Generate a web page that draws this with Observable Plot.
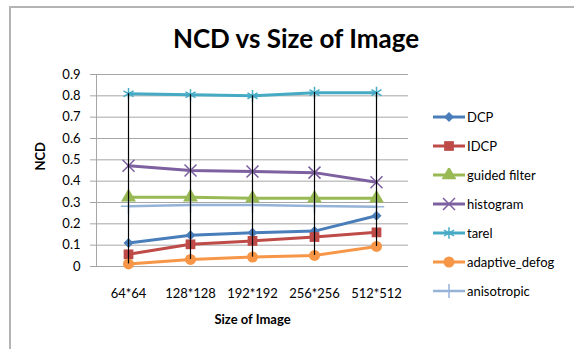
<!DOCTYPE html>
<html>
<head>
<meta charset="utf-8">
<script src="https://cdn.jsdelivr.net/npm/d3@7"></script>
<script src="https://cdn.jsdelivr.net/npm/@observablehq/plot@0.6"></script>
<style>
  html, body { margin: 0; padding: 0; background: #fff; }
  body { width: 574px; height: 349px; position: relative; overflow: hidden; font-family: Lato, "Open Sans", sans-serif; }
  #frame { position: absolute; left: 9px; top: 6px; width: 600px; height: 400px; border-left: 2px solid #b4b4b4; border-top: 2px solid #b4b4b4; box-sizing: border-box; }
  #title { position: absolute; left: 0; width: 592px; top: 22px; text-align: center; font-weight: bold; font-size: 26px; color: #000; }
  #chart { position: absolute; left: 0; top: 0; }
  #legend { position: absolute; left: 433px; top: 102px; font-size: 13px; color: #000; }
  .item { height: 29px; display: flex; align-items: center; }
  .item svg { margin-right: 2px; }
</style>
</head>
<body>
<div id="frame"></div>
<div id="chart"></div>
<div id="title">NCD vs Size of Image</div>
<div id="legend"></div>
<script>
const sizes = ["64*64", "128*128", "192*192", "256*256", "512*512"];
const seriesNames = ["DCP", "IDCP", "guided filter", "histogram", "tarel", "adaptive_defog", "anisotropic"];
const DCP = [0.11, 0.146, 0.158, 0.166, 0.238];
const IDCP = [0.057, 0.104, 0.12, 0.138, 0.16];
const guidedFilter = [0.325, 0.325, 0.32, 0.32, 0.32];
const histogram = [0.472, 0.45, 0.445, 0.44, 0.395];
const tarel = [0.81, 0.805, 0.80, 0.815, 0.815];
const adaptiveDefog = [0.012, 0.033, 0.044, 0.052, 0.094];
const anisotropic = [0.282, 0.288, 0.288, 0.284, 0.28];
const yTicks = [0, 0.1, 0.2, 0.3, 0.4, 0.5, 0.6, 0.7, 0.8, 0.9];

const colors = ["#4A7EBB", "#BE4B48", "#98B954", "#7D60A0", "#46AAC5", "#F79646", "#95B3D7"];
const symbols = ["diamond2", "square", "triangle", "times", "asterisk", "circle", "plus"];
const filled = [true, true, true, false, false, true, false];
const rs = [4.5, 5.5, 5.5, 5.5, 5.5, 5.5, 5];
const widths = [3, 3, 3, 3, 3, 3, 2.5];

const allValues = [DCP, IDCP, guidedFilter, histogram, tarel, adaptiveDefog, anisotropic];
const rows = [];
seriesNames.forEach((name, i) => {
  sizes.forEach((s, j) => rows.push({series: name, idx: i, size: s, value: allValues[i][j]}));
});
const ranges = sizes.map((s, j) => ({
  size: s,
  lo: d3.min(allValues, v => v[j]),
  hi: d3.max(allValues, v => v[j])
}));

const marks = [
  Plot.ruleY(yTicks, {stroke: "#a6a6a6", strokeWidth: 1}),
  Plot.axisY({ticks: yTicks, tickFormat: d => String(+d.toFixed(1)), tickSize: 6, tickPadding: 10, stroke: "#a6a6a6", fontSize: 13, fill: "#000", label: null}),
  Plot.frame({anchor: "left", stroke: "#a6a6a6"}),
  Plot.axisX({tickSize: 0, tickPadding: 22, fontSize: 13, fill: "#000", label: null}),
];
seriesNames.forEach((name, i) => {
  const d = rows.filter(r => r.idx === i);
  marks.push(Plot.line(d, {x: "size", y: "value", stroke: colors[i], strokeWidth: widths[i]}));
});
seriesNames.forEach((name, i) => {
  const d = rows.filter(r => r.idx === i);
  marks.push(Plot.dot(d, {
    x: "size", y: "value", symbol: () => symbols[i], r: rs[i],
    fill: filled[i] ? colors[i] : "none",
    stroke: colors[i], strokeWidth: filled[i] ? 0 : 1.5
  }));
});
marks.push(Plot.ruleX(ranges, {x: "size", y1: "lo", y2: "hi", stroke: "#000", strokeWidth: 1.2}));

const chart = Plot.plot({
  width: 574,
  height: 349,
  marginLeft: 96,
  marginRight: 166,
  marginTop: 74,
  marginBottom: 83,
  style: {background: "transparent", fontFamily: "Lato, 'Open Sans', sans-serif"},
  x: {type: "point", domain: sizes, padding: 0.5, axis: null},
  y: {domain: [0, 0.9], axis: null},
  symbol: {type: "identity"},
  marks: [
    ...marks,
    Plot.text(["Size of Image"], {frameAnchor: "bottom", dy: 57, fontWeight: "bold", fontSize: 13, fill: "#000"}),
    Plot.text(["NCD"], {frameAnchor: "left", dx: -56, rotate: -90, fontWeight: "bold", fontSize: 13, fill: "#000"})
  ]
});
document.getElementById("chart").appendChild(chart);

// legend
const legend = document.getElementById("legend");
seriesNames.forEach((name, i) => {
  const item = document.createElement("div");
  item.className = "item";
  const sv = d3.create("svg").attr("width", 32).attr("height", 14);
  sv.append("line").attr("x1", 0).attr("x2", 32).attr("y1", 7).attr("y2", 7)
    .attr("stroke", colors[i]).attr("stroke-width", widths[i]);
  const symMap = {diamond2: d3.symbolDiamond2, square: d3.symbolSquare, triangle: d3.symbolTriangle, times: d3.symbolTimes, asterisk: d3.symbolAsterisk, circle: d3.symbolCircle, plus: d3.symbolPlus};
  sv.append("path").attr("transform", "translate(16,7)")
    .attr("d", d3.symbol(symMap[symbols[i]], Math.PI * rs[i] * rs[i])())
    .attr("fill", filled[i] ? colors[i] : "none")
    .attr("stroke", filled[i] ? "none" : colors[i]).attr("stroke-width", 1.5);
  item.appendChild(sv.node());
  const t = document.createElement("span");
  t.textContent = name;
  item.appendChild(t);
  legend.appendChild(item);
});
</script>
</body>
</html>
